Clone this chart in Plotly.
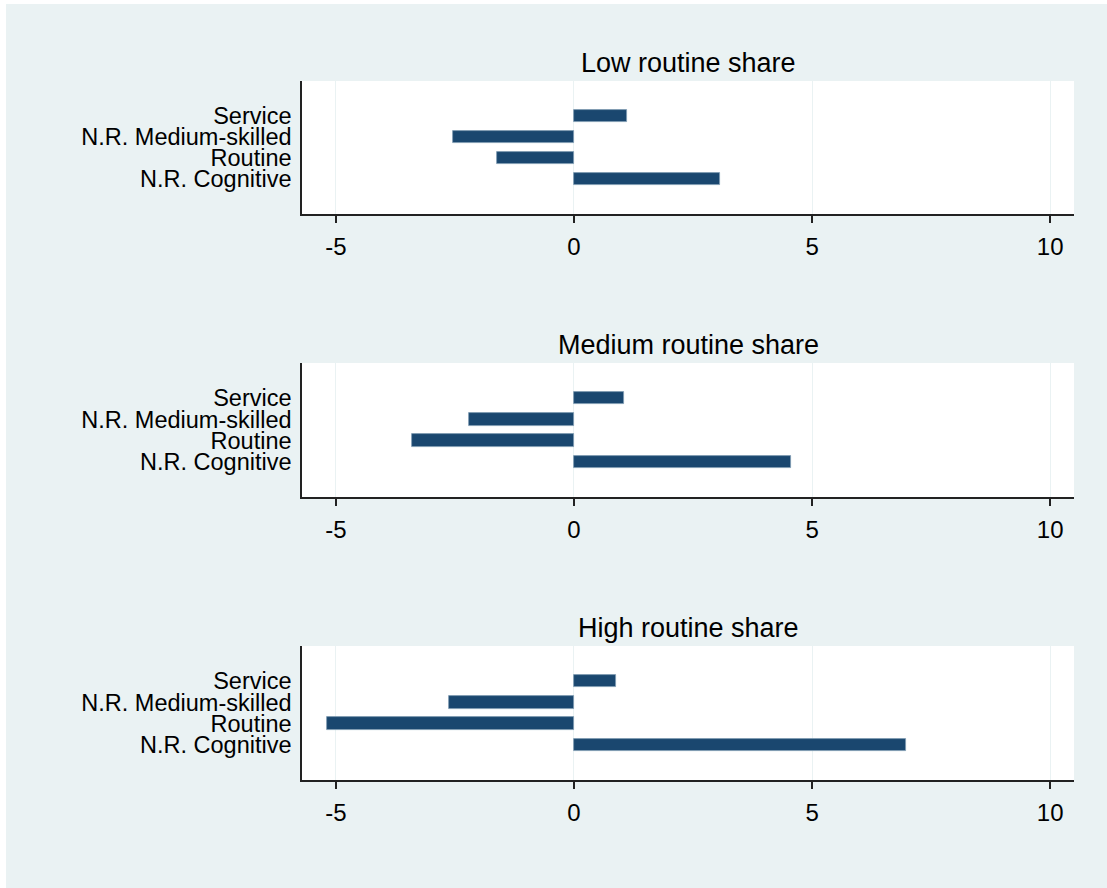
import plotly.graph_objects as go

categories = ["N.R. Cognitive", "Routine", "N.R. Medium-skilled", "Service"]
panel_titles = ["Low routine share", "Medium routine share", "High routine share"]
low_values = [3.07, -1.61, -2.54, 1.11]
medium_values = [4.56, -3.41, -2.21, 1.05]
high_values = [6.98, -5.19, -2.63, 0.89]
x_ticks = [-5, 0, 5, 10]

W, H = 1107, 888
BG = "#EAF2F3"
BAR = "#1A476F"
FONT = "Liberation Sans, Arial, sans-serif"

# pixel layout
x_left, x_right = 302, 1074
panels_px = [(81, 214), (363, 497), (646, 780)]

fig = go.Figure()
series = [low_values, medium_values, high_values]
for i, vals in enumerate(series):
    ax = "" if i == 0 else str(i + 1)
    fig.add_trace(go.Bar(
        x=vals, y=categories, orientation="h",
        marker=dict(color=BAR, line=dict(color="#7f9bb3", width=0.8)),
        width=0.58,
        xaxis="x" + ax, yaxis="y" + ax,
        showlegend=False,
    ))
    top, bot = panels_px[i]
    dom_y = [1 - bot / H, 1 - top / H]
    dom_x = [x_left / W, x_right / W]
    fig.layout["xaxis" + ax] = dict(
        domain=dom_x, anchor="y" + ax, range=[-5.71, 10.5],
        tickmode="array", tickvals=x_ticks, ticktext=[str(t) for t in x_ticks],
        ticks="outside", ticklen=7, tickwidth=1.5, tickcolor="#222",
        ticklabelstandoff=3,
        showline=True, linecolor="#222", linewidth=1.5,
        showgrid=True, gridcolor=BG, gridwidth=1.2,
        zeroline=False,
        tickfont=dict(family=FONT, size=24, color="#000"),
    )
    fig.layout["yaxis" + ax] = dict(
        domain=dom_y, anchor="x" + ax, range=[-1.66, 4.66],
        type="category", categoryorder="array", categoryarray=categories,
        tickmode="array", tickvals=categories, ticktext=categories,
        ticks="", showline=True, linecolor="#222", linewidth=1.5,
        showgrid=False, zeroline=False,
        ticklabelstandoff=4,
        tickfont=dict(family=FONT, size=23.5, color="#000"),
    )
    fig.add_annotation(
        text=panel_titles[i], xref="paper", yref="paper",
        x=(x_left + x_right) / 2 / W, y=1 - (top - 18) / H,
        xanchor="center", yanchor="middle", showarrow=False,
        font=dict(family=FONT, size=27, color="#000"),
    )

# white strips at left and top edges
fig.add_shape(type="rect", xref="paper", yref="paper", x0=0, x1=6 / W, y0=0, y1=1,
              fillcolor="white", line=dict(width=0), layer="below")
fig.add_shape(type="rect", xref="paper", yref="paper", x0=0, x1=1, y0=1 - 4 / H, y1=1,
              fillcolor="white", line=dict(width=0), layer="below")

fig.update_layout(
    width=W, height=H,
    margin=dict(l=0, r=0, t=0, b=0),
    paper_bgcolor=BG, plot_bgcolor="white",
    bargap=0,
    font=dict(family=FONT, color="#000"),
)

fig.write_html("out.html", config={"displayModeBar": False},
               post_script="document.body.style.margin='0px';")
